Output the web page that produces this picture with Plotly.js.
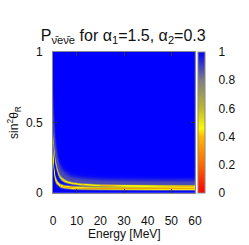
<!DOCTYPE html>
<html>
<head>
<meta charset="utf-8">
<script src="https://cdn.plot.ly/plotly-3.0.1.min.js"></script>
<style>html,body{margin:0;padding:0;background:#fff;}#chart{width:249px;height:245px;}</style>
</head>
<body>
<div id="chart"></div>
<script>
// Values
const energyTicks = [0, 10, 20, 30, 40, 50, 60];
const sinTicks = [0, 0.5, 1];
const sinTickText = ['0', '0.5', '1'];
const cbTicks = [0, 0.2, 0.4, 0.6, 0.8, 1];
const cbTickText = ['0', '0.2', '0.4', '0.6', '0.8', '1'];

// Band positions (sin^2 theta_R) and probability levels read along energy
const energyNodes = [0.1, 0.3, 0.6, 1, 1.5, 2.4, 3.5, 5.2, 8, 12, 20, 30, 45, 60];
const innerCenter = [0.28, 0.20, 0.14, 0.105, 0.08, 0.06, 0.047, 0.04, 0.035, 0.032, 0.030, 0.029, 0.028, 0.028];
const innerWidth  = [0.06, 0.04, 0.028, 0.02, 0.016, 0.012, 0.011, 0.010, 0.010, 0.010, 0.010, 0.010, 0.010, 0.010];
const innerLevel  = [0.45, 0.43, 0.42, 0.42, 0.41, 0.40, 0.38, 0.36, 0.34, 0.33, 0.32, 0.31, 0.31, 0.31];
const outerCenter = [0.38, 0.33, 0.28, 0.23, 0.185, 0.13, 0.10, 0.08, 0.066, 0.057, 0.050, 0.047, 0.045, 0.044];
const outerWidth  = [0.05, 0.04, 0.032, 0.025, 0.02, 0.015, 0.012, 0.010, 0.008, 0.0075, 0.007, 0.007, 0.007, 0.007];
const outerLevel  = [0.72, 0.70, 0.67, 0.65, 0.63, 0.60, 0.56, 0.52, 0.49, 0.47, 0.46, 0.45, 0.45, 0.45];
const hazeLevel   = [0.9, 0.9, 0.89, 0.88, 0.88, 0.88, 0.88, 0.88, 0.88, 0.88, 0.88, 0.88, 0.88, 0.88];

function interp(arr, E) {
  if (E <= energyNodes[0]) return arr[0];
  const n = energyNodes.length;
  if (E >= energyNodes[n - 1]) return arr[n - 1];
  for (let i = 0; i < n - 1; i++) {
    if (E <= energyNodes[i + 1]) {
      const t = (Math.log(E) - Math.log(energyNodes[i])) / (Math.log(energyNodes[i + 1]) - Math.log(energyNodes[i]));
      return arr[i] + t * (arr[i + 1] - arr[i]);
    }
  }
  return arr[n - 1];
}

const xs = [], ys = [];
for (let i = 0; i <= 600; i++) xs.push(i * 0.1);
for (let j = 0; j <= 400; j++) ys.push(j * 0.0025);
const z = [];
for (let j = 0; j < ys.length; j++) z.push(new Array(xs.length));
for (let i = 0; i < xs.length; i++) {
  const E = xs[i];
  const ic = interp(innerCenter, E), iw = interp(innerWidth, E), il = interp(innerLevel, E);
  const oc = interp(outerCenter, E), ow = interp(outerWidth, E), ol = interp(outerLevel, E);
  const hl = interp(hazeLevel, E);
  for (let j = 0; j < ys.length; j++) {
    const s = ys[j];
    const g1 = Math.exp(-Math.pow((s - ic) / iw, 2));
    const g2 = Math.exp(-Math.pow((s - oc) / ow, 2));
    const hc = oc + 3 * ow, hw = 4 * ow;
    const g3 = s > oc ? Math.exp(-Math.pow((s - hc) / hw, 2)) : 0;
    let v = 1 - (1 - il) * g1 - (1 - ol) * g2 - (1 - hl) * g3;
    z[j][i] = Math.max(0, Math.min(1, v));
  }
}

const colorscale = [
  [0, 'rgb(255,0,0)'],
  [0.2, 'rgb(255,105,0)'],
  [0.4, 'rgb(255,185,0)'],
  [0.46, 'rgb(255,250,0)'],
  [0.6, 'rgb(190,185,40)'],
  [0.8, 'rgb(125,125,135)'],
  [1, 'rgb(0,0,255)']
];

const cbX0 = (198 - 53) / 142, cbX1 = (205 - 53) / 142;
const shapes = cbTicks.slice(1, -1).map(v => ({
  type: 'line', xref: 'paper', yref: 'paper', x0: cbX0, x1: cbX1, y0: v, y1: v,
  line: {color: '#333', width: 1}, layer: 'above'
}));

const font = {family: 'Liberation Sans, Arial, sans-serif', size: 12, color: '#111'};

Plotly.newPlot('chart', [{
  type: 'heatmap', x: xs, y: ys, z: z, zmin: 0, zmax: 1, zsmooth: false,
  colorscale: colorscale, hoverinfo: 'skip',
  colorbar: {
    thickness: 7, thicknessmode: 'pixels', len: 1, lenmode: 'fraction',
    x: cbX0, xanchor: 'left', xpad: 0, y: 0.5, yanchor: 'middle', ypad: 0,
    outlinewidth: 1, outlinecolor: '#888',
    tickmode: 'array', tickvals: cbTicks, ticktext: cbTickText,
    ticks: 'outside', ticklen: 11, tickcolor: 'rgba(0,0,0,0)',
    tickfont: font
  }
}], {
  width: 249, height: 245,
  margin: {l: 53, r: 54, t: 52, b: 52},
  paper_bgcolor: '#fff', plot_bgcolor: '#fff',
  font: font,
  title: {
    text: 'P<sub>\u03bd\u0304e\u03bd\u0304e</sub> for \u03b1<sub>1</sub>=1.5, \u03b1<sub>2</sub>=0.3',
    font: {family: 'Liberation Sans, Arial, sans-serif', size: 16, color: '#111'},
    xref: 'container', x: 0.495, xanchor: 'center', yref: 'container', y: 0.857, yanchor: 'middle'
  },
  xaxis: {
    range: [0, 60], tickmode: 'array', tickvals: energyTicks,
    ticks: 'outside', ticklen: 17, tickcolor: 'rgba(0,0,0,0)',
    showline: true, linecolor: '#888', linewidth: 1, mirror: 'ticks',
    showgrid: false, zeroline: false,
    minor: {tickmode: 'array', tickvals: [10, 30, 50], ticks: 'inside', ticklen: 4, tickcolor: '#333', showgrid: false}
  },
  yaxis: {
    range: [0, 1], tickmode: 'array', tickvals: sinTicks, ticktext: sinTickText,
    ticks: 'inside', ticklen: 4, tickcolor: '#333',
    showline: true, linecolor: '#888', linewidth: 1, mirror: 'ticks',
    showgrid: false, zeroline: false, ticklabelstandoff: 7,
    title: {text: 'sin<sup>2</sup>\u03b8<sub>R</sub>', font: font, standoff: 4}
  },
  annotations: [{
    text: 'Energy [MeV]', xref: 'paper', yref: 'paper', x: 0.5, y: (193 - 234) / 141,
    xanchor: 'center', yanchor: 'middle', showarrow: false, font: font
  }],
  shapes: shapes
}, {displayModeBar: false, staticPlot: true});
</script>
</body>
</html>
